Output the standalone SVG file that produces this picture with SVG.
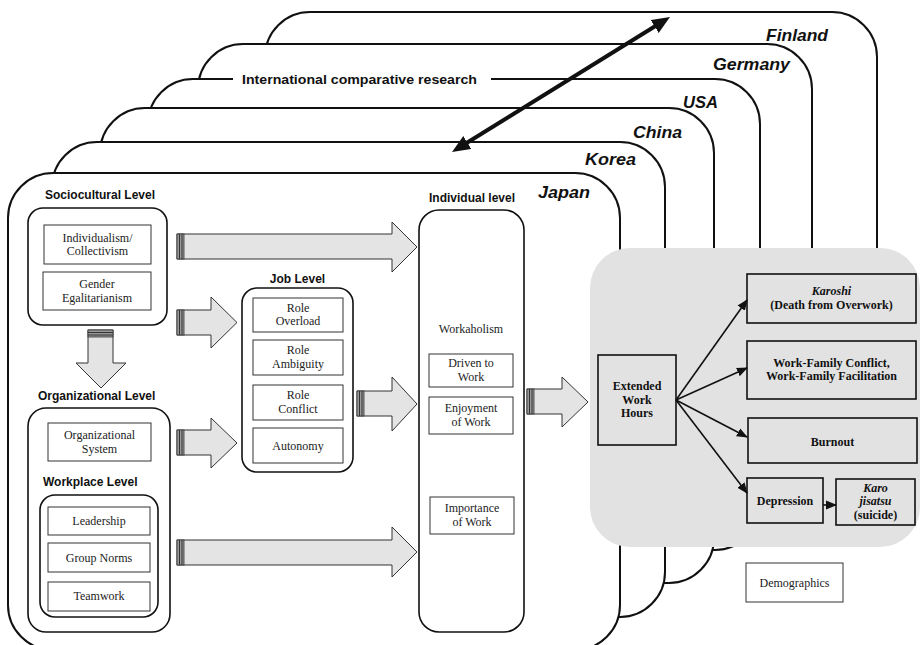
<svg xmlns="http://www.w3.org/2000/svg" width="920" height="645" viewBox="0 0 920 645">
<style>
.card{fill:#fff;stroke:#111;stroke-width:2}
.country{font-family:"Liberation Sans",Arial,sans-serif;font-weight:bold;font-style:italic;font-size:17px;fill:#111}
.lbl{font-family:"Liberation Sans",Arial,sans-serif;font-weight:bold;font-size:12px;fill:#111}
.ser{font-family:"Liberation Serif","Times New Roman",serif;font-size:12px;fill:#222;text-anchor:middle}
.bser{font-family:"Liberation Serif","Times New Roman",serif;font-size:12px;font-weight:bold;fill:#111;text-anchor:middle}
.grp{fill:#fff;stroke:#111;stroke-width:1.6}
.box{fill:#fff;stroke:#333;stroke-width:1}
.gbox{fill:none;stroke:#111;stroke-width:1.6}
.barrow{fill:#e4e4e4;stroke:#333;stroke-width:1}
.tail{fill:#9a9a9a;stroke:#333;stroke-width:0.8}
.tl{stroke:#333;stroke-width:1}
.conn{stroke:#111;stroke-width:1.6;fill:none}
</style>
<defs>
<marker id="bigHead" markerUnits="userSpaceOnUse" markerWidth="20" markerHeight="16" viewBox="0 0 20 16" refX="8" refY="8" orient="auto-start-reverse">
<path d="M0,0.5 L18,8 L0,15.5 Z" fill="#111"/>
</marker>
<marker id="smallHead" markerUnits="userSpaceOnUse" markerWidth="12" markerHeight="10" viewBox="0 0 12 10" refX="10" refY="5" orient="auto">
<path d="M0,0.5 L11,5 L0,9.5 Z" fill="#111"/>
</marker>
</defs>

<!-- country cards, back to front -->
<g id="card-finland">
<rect class="card" x="265" y="12" width="612" height="468" rx="45"/>
<text class="country" x="766" y="41" textLength="62" lengthAdjust="spacingAndGlyphs">Finland</text>
</g>
<g id="card-germany">
<rect class="card" x="198" y="44" width="614" height="471" rx="45"/>
<text class="country" x="713" y="70" textLength="77" lengthAdjust="spacingAndGlyphs">Germany</text>
</g>
<g id="card-usa">
<rect class="card" x="148" y="79" width="612" height="471" rx="45"/>
<rect x="233" y="71" width="258" height="17" fill="#fff"/>
<text class="lbl" x="242" y="84" font-size="13" textLength="235" lengthAdjust="spacingAndGlyphs">International comparative research</text>
<text class="country" x="683" y="108" textLength="35" lengthAdjust="spacingAndGlyphs">USA</text>
</g>
<g id="card-china">
<rect class="card" x="100" y="108" width="614" height="475" rx="45"/>
<text class="country" x="633" y="138" textLength="49" lengthAdjust="spacingAndGlyphs">China</text>
</g>
<g id="card-korea">
<rect class="card" x="52" y="142" width="613" height="475" rx="45"/>
<text class="country" x="585" y="165" textLength="51" lengthAdjust="spacingAndGlyphs">Korea</text>
</g>
<g id="card-japan">
<rect class="card" x="8" y="173" width="612" height="477" rx="45"/>
<text class="country" x="538" y="198" textLength="52" lengthAdjust="spacingAndGlyphs">Japan</text>
</g>

<!-- outcome panel -->
<g id="outcomes-panel">
<rect x="590" y="248" width="330" height="299" rx="40" fill="#e2e2e2"/>
</g>

<!-- Sociocultural level -->
<g id="sociocultural">
<text class="lbl" x="45" y="199">Sociocultural Level</text>
<rect class="grp" x="28" y="208" width="139" height="117" rx="15"/>
</g>
<g id="individualism">
<rect class="box" x="44" y="225" width="107" height="39"/>
<text class="ser" x="97.5" y="241.5">Individualism/</text>
<text class="ser" x="97.5" y="255">Collectivism</text>
</g>
<g id="gender">
<rect class="box" x="43" y="272" width="108" height="38"/>
<text class="ser" x="97" y="288">Gender</text>
<text class="ser" x="97" y="301.5">Egalitarianism</text>
</g>

<!-- Organizational level -->
<g id="organizational">
<text class="lbl" x="38" y="400">Organizational Level</text>
<rect class="grp" x="28" y="408" width="142" height="224" rx="18"/>
</g>
<g id="org-system">
<rect class="box" x="48" y="423" width="103" height="38"/>
<text class="ser" x="99.5" y="439">Organizational</text>
<text class="ser" x="99.5" y="452.5">System</text>
</g>
<g id="workplace">
<text class="lbl" x="43" y="486">Workplace Level</text>
<rect class="grp" x="40" y="495" width="118" height="122" rx="15"/>
</g>
<g id="leadership">
<rect class="box" x="48" y="507" width="102" height="28"/>
<text class="ser" x="99" y="525">Leadership</text>
</g>
<g id="group-norms">
<rect class="box" x="48" y="543" width="102" height="29"/>
<text class="ser" x="99" y="562">Group Norms</text>
</g>
<g id="teamwork">
<rect class="box" x="48" y="582" width="102" height="29"/>
<text class="ser" x="99" y="600">Teamwork</text>
</g>

<!-- Job level -->
<g id="job-level">
<text class="lbl" x="297.5" y="283" text-anchor="middle">Job Level</text>
<rect class="grp" x="242" y="288" width="111" height="184" rx="15"/>
</g>
<g id="role-overload">
<rect class="box" x="253" y="298" width="90" height="34"/>
<text class="ser" x="298" y="311.5">Role</text>
<text class="ser" x="298" y="325">Overload</text>
</g>
<g id="role-ambiguity">
<rect class="box" x="253" y="340" width="90" height="35"/>
<text class="ser" x="298" y="354">Role</text>
<text class="ser" x="298" y="367.5">Ambiguity</text>
</g>
<g id="role-conflict">
<rect class="box" x="253" y="385" width="90" height="35"/>
<text class="ser" x="298" y="399">Role</text>
<text class="ser" x="298" y="412.5">Conflict</text>
</g>
<g id="autonomy">
<rect class="box" x="253" y="428" width="90" height="35"/>
<text class="ser" x="298" y="450">Autonomy</text>
</g>

<!-- Individual level -->
<g id="individual-level">
<text class="lbl" x="472" y="202" text-anchor="middle">Individual level</text>
<rect class="grp" x="419" y="210" width="105" height="422" rx="20"/>
<text class="ser" x="471" y="333">Workaholism</text>
</g>
<g id="driven">
<rect class="box" x="429" y="354" width="84" height="33" stroke="#555"/>
<text class="ser" x="471" y="367">Driven to</text>
<text class="ser" x="471" y="380.5">Work</text>
</g>
<g id="enjoyment">
<rect class="box" x="429" y="397" width="84" height="37" stroke="#555"/>
<text class="ser" x="471" y="412">Enjoyment</text>
<text class="ser" x="471" y="425.5">of Work</text>
</g>
<g id="importance">
<rect class="box" x="430" y="497" width="84" height="37" stroke="#555"/>
<text class="ser" x="472" y="512">Importance</text>
<text class="ser" x="472" y="525.5">of Work</text>
</g>

<!-- Outcomes -->
<g id="extended-hours">
<rect class="gbox" x="598" y="355" width="78" height="90"/>
<text class="bser" x="637" y="390">Extended</text>
<text class="bser" x="637" y="403.5">Work</text>
<text class="bser" x="637" y="417">Hours</text>
</g>
<g id="karoshi">
<rect class="gbox" x="747" y="274" width="169" height="49"/>
<text class="bser" x="831.5" y="295" font-style="italic">Karoshi</text>
<text class="bser" x="831.5" y="308.5">(Death from Overwork)</text>
</g>
<g id="work-family">
<rect class="gbox" x="747" y="341" width="169" height="58"/>
<text class="bser" x="831.5" y="366.5">Work-Family Conflict,</text>
<text class="bser" x="831.5" y="380">Work-Family Facilitation</text>
</g>
<g id="burnout">
<rect class="gbox" x="748" y="418" width="169" height="45"/>
<text class="bser" x="832.5" y="446">Burnout</text>
</g>
<g id="depression">
<rect class="gbox" x="747" y="478" width="76" height="45"/>
<text class="bser" x="785" y="505">Depression</text>
</g>
<g id="karo-jisatsu">
<rect class="gbox" x="836" y="479" width="79" height="46"/>
<text class="bser" x="875.5" y="491.5" font-style="italic">Karo</text>
<text class="bser" x="875.5" y="505" font-style="italic">jisatsu</text>
<text class="bser" x="875.5" y="518.5">(suicide)</text>
</g>
<g id="demographics">
<rect class="box" x="746" y="563" width="97" height="39" stroke="#222"/>
<text class="ser" x="794.5" y="587">Demographics</text>
</g>

<!-- connectors -->
<g id="connectors">
<path class="barrow" d="M177,234 H392 V222 L417,247 L392,272 V259 H177 Z"/>
<rect class="tail" x="177" y="234" width="7" height="25"/>
<path class="tl" d="M179.5,234 V259 M182,234 V259"/>

<path class="barrow" d="M177,310 H211 V297 L237,322.5 L211,348 V335 H177 Z"/>
<rect class="tail" x="177" y="310" width="7" height="25"/>
<path class="tl" d="M179.5,310 V335 M182,310 V335"/>

<path class="barrow" d="M177,430 H211 V418 L237,443 L211,468 V455 H177 Z"/>
<rect class="tail" x="177" y="430" width="7" height="25"/>
<path class="tl" d="M179.5,430 V455 M182,430 V455"/>

<path class="barrow" d="M177,540 H392 V527 L417,552 L392,577 V565 H177 Z"/>
<rect class="tail" x="177" y="540" width="7" height="25"/>
<path class="tl" d="M179.5,540 V565 M182,540 V565"/>

<path class="barrow" d="M357,391 H392 V377 L417,404 L392,431 V416 H357 Z"/>
<rect class="tail" x="357" y="391" width="7" height="25"/>
<path class="tl" d="M359.5,391 V416 M362,391 V416"/>

<path class="barrow" d="M527,389 H562 V377 L588,402 L562,427 V414 H527 Z"/>
<rect class="tail" x="527" y="389" width="7" height="25"/>
<path class="tl" d="M529.5,389 V414 M532,389 V414"/>

<path class="barrow" d="M88,330 V363 H76 L101,388 L126,363 H113 V330 Z"/>
<rect class="tail" x="88" y="330" width="25" height="7"/>
<path class="tl" d="M88,332.5 H113 M88,335 H113"/>

<line x1="460.5" y1="146.7" x2="661.5" y2="22.3" stroke="#111" stroke-width="4" marker-start="url(#bigHead)" marker-end="url(#bigHead)"/>

<line class="conn" x1="676" y1="400" x2="747" y2="300" marker-end="url(#smallHead)"/>
<line class="conn" x1="676" y1="400" x2="747" y2="368" marker-end="url(#smallHead)"/>
<line class="conn" x1="676" y1="400" x2="747" y2="437" marker-end="url(#smallHead)"/>
<line class="conn" x1="676" y1="400" x2="747" y2="493" marker-end="url(#smallHead)"/>
<line class="conn" x1="823" y1="505" x2="836" y2="505" marker-end="url(#smallHead)"/>
</g>
</svg>
